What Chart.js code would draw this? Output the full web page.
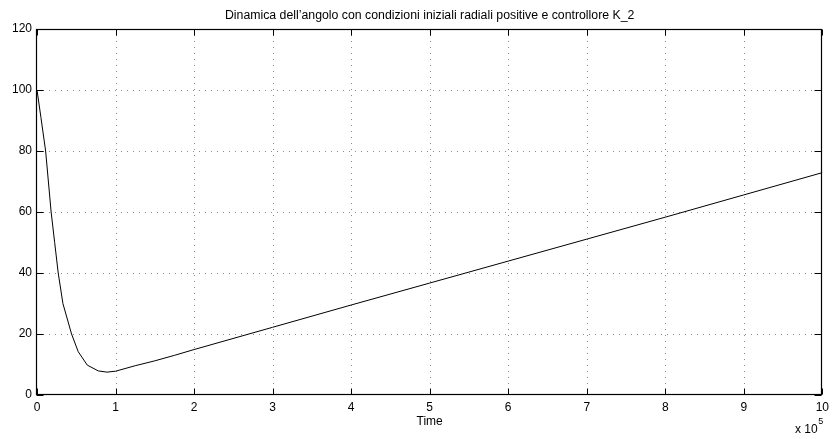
<!DOCTYPE html>
<html>
<head>
<meta charset="utf-8">
<script src="https://cdn.jsdelivr.net/npm/chart.js@4.4.0/dist/chart.umd.min.js"></script>
<style>
  html, body { margin: 0; padding: 0; background: #ffffff; }
  #wrap { width: 834px; height: 439px; }
</style>
</head>
<body>
<div id="wrap"><canvas id="chart" width="834" height="439"></canvas></div>
<script>
// Time samples (units of 1e5) and angle values of the simulated response
const timeValues  = [0, 0.05, 0.11, 0.18, 0.225, 0.27, 0.33, 0.44, 0.525, 0.64, 0.78, 0.89, 1.0, 1.25, 1.5, 1.75, 2, 3, 4, 5, 6, 7, 8, 9, 10];
const angleValues = [100, 91, 80, 60, 50, 40, 30, 20, 14.2, 9.8, 7.9, 7.5, 7.8, 9.6, 11.2, 13.0, 14.9, 22.2, 29.5, 36.7, 43.9, 51.1, 58.3, 65.6, 72.9];

// Axis ticks
const xTickValues = [0, 1, 2, 3, 4, 5, 6, 7, 8, 9, 10];
const yTickValues = [0, 20, 40, 60, 80, 100, 120];

// Texts
const titleText = 'Dinamica dell’angolo con condizioni iniziali radiali positive e controllore K_2';
const xAxisLabel = 'Time';
const xExponentBase = 'x 10';
const xExponent = '5';

const FONT = '"Liberation Sans", Arial, Helvetica, sans-serif';

// Dotted grid, boxed axes with inward ticks, title and exponent label
const boxedAxes = {
  id: 'boxedAxes',
  beforeDatasetsDraw(chart) {
    const { ctx, chartArea: a, scales: { x, y } } = chart;
    ctx.save();
    ctx.strokeStyle = '#8a8a8a';
    ctx.lineWidth = 1;
    ctx.setLineDash([1, 5]);
    xTickValues.forEach(v => {
      if (v === x.min || v === x.max) return;
      const px = Math.round(x.getPixelForValue(v)) + 0.5;
      ctx.beginPath(); ctx.moveTo(px, a.top); ctx.lineTo(px, a.bottom); ctx.stroke();
    });
    yTickValues.forEach(v => {
      if (v === y.min || v === y.max) return;
      const py = Math.round(y.getPixelForValue(v)) + 0.5;
      ctx.beginPath(); ctx.moveTo(a.left, py); ctx.lineTo(a.right, py); ctx.stroke();
    });
    ctx.restore();
  },
  afterDatasetsDraw(chart) {
    const { ctx, chartArea: a, scales: { x, y } } = chart;
    const L = Math.round(a.left) - 0.5, R = Math.round(a.right) - 0.5;
    const T = Math.round(a.top) + 0.5, B = Math.round(a.bottom) - 0.5;
    ctx.save();
    ctx.strokeStyle = '#000000';
    ctx.lineWidth = 1.2;
    ctx.setLineDash([]);
    ctx.strokeRect(L, T, R - L, B - T);
    ctx.lineWidth = 1;
    ctx.beginPath();
    xTickValues.forEach(v => {
      const px = Math.round(x.getPixelForValue(v)) + 0.5;
      ctx.moveTo(px, B); ctx.lineTo(px, B - 6);
      ctx.moveTo(px, T); ctx.lineTo(px, T + 6);
    });
    yTickValues.forEach(v => {
      const py = Math.round(y.getPixelForValue(v)) + 0.5;
      ctx.moveTo(L, py); ctx.lineTo(L + 7, py);
      ctx.moveTo(R, py); ctx.lineTo(R - 7, py);
    });
    ctx.stroke();

    ctx.fillStyle = '#000000';
    ctx.textAlign = 'center';
    ctx.textBaseline = 'alphabetic';
    ctx.font = '12.3px ' + FONT;
    ctx.fillText(titleText, (a.left + a.right) / 2, 18.5);

    ctx.textAlign = 'left';
    ctx.font = '12px ' + FONT;
    ctx.fillText(xExponentBase, 795, 433);
    const w = ctx.measureText(xExponentBase).width;
    ctx.font = '9px ' + FONT;
    ctx.fillText(xExponent, 795 + w + 0.5, 424);
    ctx.restore();
  }
};

new Chart(document.getElementById('chart'), {
  type: 'line',
  data: {
    datasets: [{
      data: timeValues.map((t, i) => ({ x: t, y: angleValues[i] })),
      borderColor: '#000000',
      borderWidth: 1,
      pointRadius: 0,
      tension: 0,
      fill: false
    }]
  },
  options: {
    responsive: false,
    animation: false,
    devicePixelRatio: 1,
    layout: { padding: { top: 29, right: 10, left: 0, bottom: 0 } },
    plugins: { legend: { display: false }, title: { display: false }, tooltip: { enabled: false } },
    scales: {
      x: {
        type: 'linear',
        min: 0, max: 10,
        afterBuildTicks: s => { s.ticks = xTickValues.map(v => ({ value: v })); },
        afterFit: s => { s.height = 44; },
        grid: { display: false, drawTicks: false },
        border: { display: false },
        ticks: { color: '#000000', font: { size: 12, family: FONT }, padding: 5, maxRotation: 0, autoSkip: false },
        title: { display: true, text: xAxisLabel, color: '#000000', font: { size: 12, family: FONT }, padding: { top: 0, bottom: 10 } }
      },
      y: {
        type: 'linear',
        min: 0, max: 120,
        afterBuildTicks: s => { s.ticks = yTickValues.map(v => ({ value: v })); },
        afterFit: s => { s.width = 37; },
        grid: { display: false, drawTicks: false },
        border: { display: false },
        ticks: { color: '#000000', font: { size: 12, family: FONT }, padding: 5 }
      }
    }
  },
  plugins: [boxedAxes]
});
</script>
</body>
</html>
